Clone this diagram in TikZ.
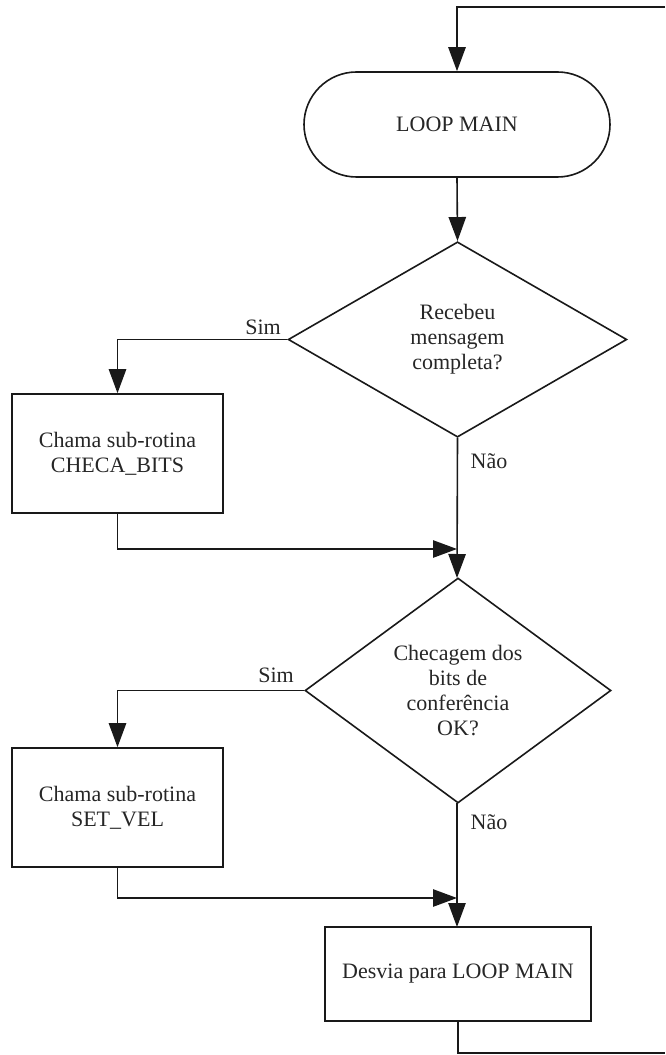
\documentclass[tikz,border=0pt]{standalone}
\usepackage{fontspec}
\setmainfont{Liberation Serif}
\usetikzlibrary{arrows.meta,shapes.geometric,shapes.misc}
\begin{document}
\begin{tikzpicture}[x=0.75pt,y=-0.75pt,
  every node/.style={font=\fontsize{16.5}{18.8}\selectfont, text=black!85},
  flow/.style={draw=black!90, line width=1.2pt},
  terminal/.style={flow, rounded rectangle, minimum width=229.5pt, minimum height=78.75pt, inner sep=0pt},
  decision/.style={flow, diamond, align=center, inner sep=0pt},
  process/.style={flow, rectangle, align=center, inner sep=0pt},
  conn/.style={draw=black!90, line width=1.2pt, -{Triangle[length=18pt,width=13pt]}},
  plain/.style={draw=black!90, line width=1.2pt},
  answer/.style={inner sep=0pt}
]
\useasboundingbox (0,0) rectangle (665,1055);

% shapes
\node[terminal] (loop) at (457,124.5) {LOOP MAIN};
\node[decision, minimum width=254pt, minimum height=146.5pt] (msg) at (457.5,339.5)
  {Recebeu\\mensagem\\completa?};
\node[process, minimum width=158.25pt, minimum height=89.25pt] (checa) at (117.5,453.5)
  {Chama sub-rotina\\CHECA\_BITS};
\node[decision, minimum width=229.5pt, minimum height=168.75pt] (bits) at (458,690.5)
  {Checagem dos\\bits de\\conferência\\OK?};
\node[process, minimum width=158.25pt, minimum height=89.25pt] (setvel) at (117.5,807.5)
  {Chama sub-rotina\\SET\_VEL};
\node[process, minimum width=199.5pt, minimum height=70.5pt] (desvia) at (458,974)
  {Desvia para LOOP MAIN};

% loose ends and junctions
\coordinate (back) at (665,7);
\coordinate (exit) at (665,1053);
\coordinate (j1) at (457,549);
\coordinate (j2) at (457,898);

% connectors
\draw[conn] (back) -| (loop.north);
\draw[conn] (loop.south) -- (msg.north);
\draw[conn] (msg.west) -| (checa.north);
\draw[conn] (msg.south) -- (457,578);
\draw[conn] (checa.south) |- (j1);
\draw[conn] (bits.west) -| (setvel.north);
\draw[conn] (457,803) -- (457,927);
\draw[conn] (setvel.south) |- (j2);
\draw[plain] (desvia.south) |- (exit);

% answer labels
\node[answer] (sim1) at (263,327) {Sim};
\node[answer] (nao1) at (489,461) {Não};
\node[answer] (sim2) at (276,675) {Sim};
\node[answer] (nao2) at (489,822) {Não};
\end{tikzpicture}
\end{document}
